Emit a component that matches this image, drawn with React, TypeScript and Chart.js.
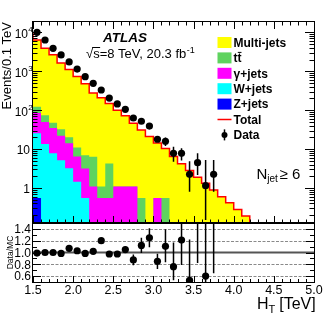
import React, { useEffect, useRef } from "react";
import { Chart, registerables } from "chart.js";

Chart.register(...registerables);

// ---------- data ----------
const binEdges = [1.5, 1.6, 1.7, 1.8, 1.9, 2.0, 2.1, 2.2, 2.3, 2.4, 2.5, 2.6, 2.7, 2.8, 2.9, 3.0, 3.1, 3.2, 3.3, 3.4, 3.5, 3.6, 3.7, 3.8, 3.9, 4.0, 4.1, 4.2, 4.3, 4.4, 4.5, 4.6, 4.7, 4.8, 4.9, 5.0];

const multiJets = [9968, 6257, 3815, 2622, 1594, 1087, 729, 475, 270, 209, 145, 99, 71, 45, 30.5, 21, 13.9, 9.75, 6.45, 4.2, 2.8, 1.88, 1.32, 0.89, 0.6, 0.42, 0.28, 0.19, 0, 0, 0, 0, 0, 0, 0];
const ttbar = [107, 38, 25, 13, 10, 6, 4.6, 3.8, 5.3, 0.55, 3.7, 0, 0, 0, 0.55, 0, 0, 0.55, 0, 0, 0, 0, 0, 0, 0, 0, 0, 0, 0, 0, 0, 0, 0, 0, 0];
const gammaJets = [61, 59, 36, 27, 17, 11, 5, 2.6, 1.1, 0.55, 0.55, 1.1, 1.1, 1.1, 0, 0, 0.55, 0, 0, 0, 0, 0, 0, 0, 0, 0, 0, 0, 0, 0, 0, 0, 0, 0, 0];
const wJets = [33, 25, 13.5, 7.8, 5.2, 3.2, 1.45, 0.55, 0, 0, 0, 0, 0, 0, 0, 0, 0, 0, 0, 0, 0, 0, 0, 0, 0, 0, 0, 0, 0, 0, 0, 0, 0, 0, 0];
const zJets = [1.08, 0.55, 0, 0, 0, 0, 0, 0, 0, 0, 0, 0, 0, 0, 0, 0, 0, 0, 0, 0, 0, 0, 0, 0, 0, 0, 0, 0, 0, 0, 0, 0, 0, 0, 0];

const dataValues = [10070, 6380, 3890, 2630, 1740, 1140, 729, 492, 331, 205, 145, 105, 63, 52, 39, 17.9, 15.9, 7.8, 7.8, 2.25, 4.47, 1.15, 2.25];
const dataErrLow = [100, 60, 40, 30, 25, 17, 13, 10, 8, 6, 5, 4.5, 6.5, 6, 5, 2.7, 3.9, 3.1, 2.7, 1.45, 2.3, 1.0, 1.45];
const dataErrHigh = [100, 60, 40, 30, 25, 17, 13, 10, 8, 6, 5, 4.5, 6.5, 6, 5, 2.7, 3.9, 3.7, 2.7, 2.65, 3.3, 4.1, 3.0];

const ratioValues = [0.99, 1.0, 1.0, 0.985, 1.07, 1.03, 0.985, 1.02, 1.2, 0.975, 0.975, 1.05, 0.875, 1.12, 1.25, 0.85, 1.105, 0.76, 1.21, 0.53, 1.6, 0.6, 1.7];
const ratioErrLow = [0.01, 0.01, 0.01, 0.01, 0.015, 0.015, 0.02, 0.02, 0.03, 0.03, 0.04, 0.05, 0.09, 0.13, 0.16, 0.13, 0.27, 0.23, 0.42, 0.34, 0.78, 0.6, 1.05];
const ratioErrHigh = [0.01, 0.01, 0.01, 0.01, 0.015, 0.015, 0.02, 0.02, 0.03, 0.03, 0.04, 0.05, 0.09, 0.13, 0.16, 0.13, 0.29, 0.41, 0.5, 0.69, 1.2, 1.5, 1.6];

const xTickValues = [1.5, 2.0, 2.5, 3.0, 3.5, 4.0, 4.5, 5.0];
const xTickLabels = ["1.5", "2.0", "2.5", "3.0", "3.5", "4.0", "4.5", "5.0"];
const yTickValues = [1, 10, 100, 1000, 10000];
const yTickBase = ["1", "10", "10", "10", "10"];
const yTickExp = ["", "", "2", "3", "4"];
const ratioTickValues = [0.6, 0.8, 1.0, 1.2, 1.4];
const ratioTickLabels = ["0.6", "0.8", "1.0", "1.2", "1.4"];
const ratioMinorTicks = [0.5, 0.7, 0.9, 1.1, 1.3, 1.5];

const legendLabels = ["Multi-jets", "tt", "\u03b3+jets", "W+jets", "Z+jets", "Total", "Data"];
const COLORS = {
  multi: "#ffff00",
  tt: "#5fd35f",
  gamma: "#ff00ff",
  w: "#00ffff",
  z: "#0000ff",
  total: "#ff0000",
};

// ---------- layout ----------
const W = 332;
const H = 320;
const PLOT_LEFT = 33;
const PLOT_RIGHT = 314;
const MAIN_TOP = 22;
const MAIN_BOTTOM = 223;
const RATIO_BOTTOM = 282;
const FLOOR = 1e-4;
const FONT = "'Liberation Sans', Arial, Helvetica, sans-serif";

function cumulate(...arrs: number[][]) {
  return arrs[0].map((_, i) => arrs.reduce((s, a) => s + a[i], 0));
}
const cumZ = cumulate(zJets);
const cumW = cumulate(zJets, wJets);
const cumG = cumulate(zJets, wJets, gammaJets);
const cumT = cumulate(zJets, wJets, gammaJets, ttbar);
const cumAll = cumulate(zJets, wJets, gammaJets, ttbar, multiJets);

function stepPoints(cum: number[]) {
  return binEdges.map((e, i) => ({ x: e, y: Math.max(cum[Math.min(i, cum.length - 1)], FLOOR) }));
}
const binCenter = (i: number) => (binEdges[i] + binEdges[i + 1]) / 2;

function txt(ctx: CanvasRenderingContext2D, s: string, x: number, y: number, font: string, align: CanvasTextAlign = "left") {
  ctx.font = font;
  ctx.textAlign = align;
  ctx.textBaseline = "alphabetic";
  ctx.fillStyle = "#000";
  ctx.fillText(s, x, y);
}

function vline(ctx: CanvasRenderingContext2D, x: number, y1: number, y2: number) {
  ctx.moveTo(x, y1);
  ctx.lineTo(x, y2);
}
function hline(ctx: CanvasRenderingContext2D, y: number, x1: number, x2: number) {
  ctx.moveTo(x1, y);
  ctx.lineTo(x2, y);
}

const mainDecor = {
  id: "mainDecor",
  afterDatasetsDraw(chart: any) {
    const { ctx, chartArea: a, scales } = chart;
    const xs = scales.x, ys = scales.y;
    ctx.save();
    ctx.beginPath();
    ctx.rect(a.left, a.top, a.right - a.left, a.bottom - a.top);
    ctx.clip();
    ctx.strokeStyle = "#000";
    ctx.lineWidth = 1.5;
    ctx.beginPath();
    dataValues.forEach((v, i) => {
      const cx = xs.getPixelForValue(binCenter(i));
      const lo = v - dataErrLow[i];
      const yLo = lo > 0 ? ys.getPixelForValue(lo) : a.bottom + 5;
      const yHi = ys.getPixelForValue(v + dataErrHigh[i]);
      vline(ctx, cx, yLo, yHi);
    });
    ctx.stroke();
    ctx.restore();
  },
  afterDraw(chart: any) {
    const { ctx, chartArea: a, scales } = chart;
    const xs = scales.x, ys = scales.y;
    ctx.save();
    // frame
    ctx.strokeStyle = "#000";
    ctx.lineWidth = 1;
    ctx.strokeRect(a.left - 0.5, a.top - 0.5, a.right - a.left + 1, a.bottom - a.top + 1);
    // x ticks
    ctx.beginPath();
    binEdges.forEach((e) => {
      const px = Math.round(xs.getPixelForValue(e)) + 0.5;
      const major = xTickValues.some((t) => Math.abs(t - e) < 1e-6);
      const len = major ? 7 : 3.5;
      vline(ctx, px, a.bottom, a.bottom - len);
      vline(ctx, px, a.top, a.top + len);
    });
    // y ticks
    const decades = [0.1, 1, 10, 100, 1000, 10000];
    decades.forEach((d) => {
      for (let m = 1; m <= 9; m++) {
        const v = d * m;
        if (v < ys.min || v > ys.max) continue;
        const py = Math.round(ys.getPixelForValue(v)) + 0.5;
        const len = m === 1 ? 9 : 4.5;
        hline(ctx, py, a.left, a.left + len);
        hline(ctx, py, a.right, a.right - len);
      }
    });
    ctx.stroke();

    // y labels
    yTickValues.forEach((v, i) => {
      const py = ys.getPixelForValue(v);
      if (yTickExp[i]) {
        txt(ctx, yTickBase[i], 28, py + 5.5, `12px ${FONT}`, "right");
        txt(ctx, yTickExp[i], 28.3, py, `8px ${FONT}`, "left");
      } else {
        txt(ctx, yTickBase[i], 30, py + 4.5, `12px ${FONT}`, "right");
      }
    });

    // y title
    ctx.save();
    ctx.translate(10.5, a.top);
    ctx.rotate(-Math.PI / 2);
    txt(ctx, "Events/0.1 TeV", 0, 0, `13px ${FONT}`, "right");
    ctx.restore();

    // ATLAS label
    txt(ctx, "ATLAS", 103, 42, `italic bold 13.5px ${FONT}`, "left");
    // sqrt(s) text
    {
      const f = `13px ${FONT}`;
      ctx.font = f;
      const x0 = 86;
      const base = 58;
      const wRoot = ctx.measureText("\u221a").width;
      const wS = ctx.measureText("\u221as").width;
      txt(ctx, "\u221as=8 TeV, 20.3 fb", x0, base, f, "left");
      ctx.font = f;
      const wAll = ctx.measureText("\u221as=8 TeV, 20.3 fb").width;
      txt(ctx, "-1", x0 + wAll + 0.5, base - 5.5, `9px ${FONT}`, "left");
      ctx.beginPath();
      ctx.lineWidth = 1;
      hline(ctx, base - 10.5, x0 + wRoot - 1, x0 + wS + 0.5);
      ctx.stroke();
    }

    // legend
    const rowY0 = 42.5;
    const rowDy = 15.4;
    const fills = [COLORS.multi, COLORS.tt, COLORS.gamma, COLORS.w, COLORS.z];
    legendLabels.forEach((lab, i) => {
      const cy = rowY0 + i * rowDy;
      if (i < 5) {
        ctx.fillStyle = fills[i];
        ctx.fillRect(217.5, cy - 5.5, 14, 11);
      } else if (i === 5) {
        ctx.strokeStyle = COLORS.total;
        ctx.lineWidth = 1.5;
        ctx.beginPath();
        hline(ctx, cy, 217.5, 231.5);
        ctx.stroke();
      } else {
        ctx.fillStyle = "#000";
        ctx.beginPath();
        ctx.arc(224.5, cy, 3, 0, Math.PI * 2);
        ctx.fill();
        ctx.strokeStyle = "#000";
        ctx.lineWidth = 1.5;
        ctx.beginPath();
        vline(ctx, 224.5, cy - 5.5, cy + 5.5);
        ctx.stroke();
      }
      const f = `bold 12px ${FONT}`;
      txt(ctx, lab, 233.5, cy + 4.3, f, "left");
      if (i === 1) {
        ctx.font = f;
        const w1 = ctx.measureText("t").width;
        const w2 = ctx.measureText("tt").width;
        ctx.strokeStyle = "#000";
        ctx.lineWidth = 1;
        ctx.beginPath();
        hline(ctx, cy - 5.5, 233.5 + w1 + 0.3, 233.5 + w2);
        ctx.stroke();
      }
    });

    // N_jet >= 6
    {
      const base = 178.5;
      ctx.font = `15px ${FONT}`;
      const wN = ctx.measureText("N").width;
      txt(ctx, "N", 256.5, base, `15px ${FONT}`, "left");
      txt(ctx, "jet", 256.5 + wN, base + 3.5, `10px ${FONT}`, "left");
      txt(ctx, "\u2265 6", 279.5, base, `15px ${FONT}`, "left");
    }
    ctx.restore();
  },
};

const ratioDecor = {
  id: "ratioDecor",
  beforeDatasetsDraw(chart: any) {
    const { ctx, chartArea: a, scales } = chart;
    const ys = scales.y;
    ctx.save();
    ctx.strokeStyle = "#8a8a8a";
    ctx.lineWidth = 1;
    ctx.setLineDash([3, 1.5]);
    ctx.beginPath();
    ratioTickValues.forEach((v) => {
      if (Math.abs(v - 1) < 1e-6) return;
      const py = Math.round(ys.getPixelForValue(v)) + 0.5;
      hline(ctx, py, a.left, a.right);
    });
    ctx.stroke();
    ctx.setLineDash([]);
    ctx.strokeStyle = "#555555";
    ctx.lineWidth = 1.8;
    ctx.beginPath();
    hline(ctx, ys.getPixelForValue(1.0), a.left, a.right);
    ctx.stroke();
    ctx.restore();
  },
  afterDatasetsDraw(chart: any) {
    const { ctx, chartArea: a, scales } = chart;
    const xs = scales.x, ys = scales.y;
    ctx.save();
    ctx.beginPath();
    ctx.rect(a.left, a.top, a.right - a.left, a.bottom - a.top);
    ctx.clip();
    ctx.strokeStyle = "#000";
    ctx.lineWidth = 1.5;
    ctx.beginPath();
    ratioValues.forEach((v, i) => {
      const cx = xs.getPixelForValue(binCenter(i));
      vline(ctx, cx, ys.getPixelForValue(v - ratioErrLow[i]), ys.getPixelForValue(v + ratioErrHigh[i]));
    });
    ctx.stroke();
    ctx.restore();
  },
  afterDraw(chart: any) {
    const { ctx, chartArea: a, scales } = chart;
    const xs = scales.x, ys = scales.y;
    ctx.save();
    ctx.strokeStyle = "#000";
    ctx.lineWidth = 1;
    ctx.strokeRect(a.left - 0.5, a.top - 0.5, a.right - a.left + 1, a.bottom - a.top + 1);
    ctx.beginPath();
    binEdges.forEach((e) => {
      const px = Math.round(xs.getPixelForValue(e)) + 0.5;
      const major = xTickValues.some((t) => Math.abs(t - e) < 1e-6);
      vline(ctx, px, a.bottom, a.bottom - (major ? 6 : 3));
    });
    ratioTickValues.forEach((v) => {
      const py = Math.round(ys.getPixelForValue(v)) + 0.5;
      hline(ctx, py, a.left, a.left + 8);
      hline(ctx, py, a.right, a.right - 8);
    });
    ratioMinorTicks.forEach((v) => {
      const py = Math.round(ys.getPixelForValue(v)) + 0.5;
      hline(ctx, py, a.left, a.left + 4);
      hline(ctx, py, a.right, a.right - 4);
    });
    ctx.stroke();

    ratioTickValues.forEach((v, i) => {
      txt(ctx, ratioTickLabels[i], 31, ys.getPixelForValue(v) + 4.3, `12px ${FONT}`, "right");
    });
    xTickValues.forEach((v, i) => {
      txt(ctx, xTickLabels[i], xs.getPixelForValue(v), 294, `12.5px ${FONT}`, "center");
    });

    // Data/MC title
    ctx.save();
    ctx.translate(13, (a.top + a.bottom) / 2);
    ctx.rotate(-Math.PI / 2);
    txt(ctx, "Data/MC", 0, 0, `8.5px ${FONT}`, "center");
    ctx.restore();

    // x title
    {
      const base = 308.5;
      const fBig = `16px ${FONT}`;
      ctx.font = fBig;
      const wH = ctx.measureText("H").width;
      txt(ctx, "H", 257, base, fBig, "left");
      ctx.font = `11px ${FONT}`;
      const wT = ctx.measureText("T").width;
      txt(ctx, "T", 257 + wH, base + 4, `11px ${FONT}`, "left");
      txt(ctx, "[TeV]", 257 + wH + wT + 4, base, fBig, "left");
    }
    ctx.restore();
  },
};

function layerDataset(label: string, cum: number[], color: string) {
  return {
    label,
    data: stepPoints(cum),
    stepped: "after" as const,
    backgroundColor: color,
    borderColor: "rgba(0,0,0,0)",
    borderWidth: 1,
    pointRadius: 0,
    fill: "start",
  };
}

export default function App() {
  const mainRef = useRef<HTMLCanvasElement>(null);
  const ratioRef = useRef<HTMLCanvasElement>(null);

  useEffect(() => {
    const dataPoints = dataValues.map((v, i) => ({ x: binCenter(i), y: v }));
    const main = new Chart(mainRef.current as HTMLCanvasElement, {
      type: "line",
      data: {
        datasets: [
          {
            label: "Data",
            data: dataPoints,
            showLine: false,
            pointRadius: 3.6,
            pointBackgroundColor: "#000",
            pointBorderColor: "#000",
            pointBorderWidth: 0,
            clip: 0,
          } as any,
          {
            label: "Total",
            data: stepPoints(cumAll),
            stepped: "after",
            borderColor: COLORS.total,
            borderWidth: 1.5,
            pointRadius: 0,
            fill: false,
          },
          layerDataset("Z+jets", cumZ, COLORS.z),
          layerDataset("W+jets", cumW, COLORS.w),
          layerDataset("gamma+jets", cumG, COLORS.gamma),
          layerDataset("ttbar", cumT, COLORS.tt),
          layerDataset("Multi-jets", cumAll, COLORS.multi),
        ] as any,
      },
      options: {
        responsive: false,
        maintainAspectRatio: false,
        animation: false,
        events: [],
        layout: { padding: { left: PLOT_LEFT, right: W - PLOT_RIGHT, top: MAIN_TOP, bottom: H - MAIN_BOTTOM } },
        scales: {
          x: { type: "linear", min: 1.5, max: 5.0, display: false, bounds: "data" },
          y: { type: "logarithmic", min: 0.126, max: 18500, display: false, bounds: "data" },
        },
        plugins: { legend: { display: false }, tooltip: { enabled: false } },
      } as any,
      plugins: [mainDecor],
    });

    const ratioPoints = ratioValues.map((v, i) => ({ x: binCenter(i), y: v }));
    const ratio = new Chart(ratioRef.current as HTMLCanvasElement, {
      type: "line",
      data: {
        datasets: [
          {
            label: "Data/MC",
            data: ratioPoints,
            showLine: false,
            pointRadius: 3.6,
            pointBackgroundColor: "#000",
            pointBorderColor: "#000",
            pointBorderWidth: 0,
            clip: 0,
          } as any,
        ],
      },
      options: {
        responsive: false,
        maintainAspectRatio: false,
        animation: false,
        events: [],
        layout: { padding: { left: PLOT_LEFT, right: W - PLOT_RIGHT, top: MAIN_BOTTOM, bottom: H - RATIO_BOTTOM } },
        scales: {
          x: { type: "linear", min: 1.5, max: 5.0, display: false, bounds: "data" },
          y: { type: "linear", min: 0.5, max: 1.5, display: false, bounds: "data" },
        },
        plugins: { legend: { display: false }, tooltip: { enabled: false } },
      } as any,
      plugins: [ratioDecor],
    });

    return () => {
      main.destroy();
      ratio.destroy();
    };
  }, []);

  return (
    <div style={{ position: "absolute", left: 0, top: 0, width: W, height: H, background: "#fff" }}>
      <canvas ref={mainRef} width={W} height={H} style={{ position: "absolute", left: 0, top: 0 }} />
      <canvas ref={ratioRef} width={W} height={H} style={{ position: "absolute", left: 0, top: 0 }} />
    </div>
  );
}
